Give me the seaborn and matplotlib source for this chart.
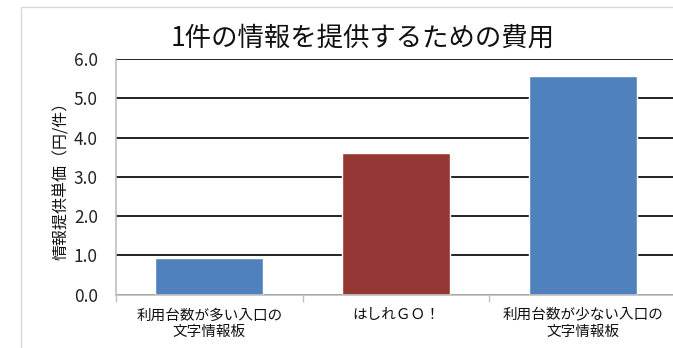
import matplotlib
matplotlib.use("Agg")
import matplotlib.pyplot as plt
from matplotlib.patches import Rectangle
import seaborn as sns
import pandas as pd

categories = ["利用台数が多い入口の\n文字情報板", "はしれＧＯ！", "利用台数が少ない入口の\n文字情報板"]
unit_cost = [0.93, 3.60, 5.56]
bar_colors = ["#4F81BD", "#953735", "#4F81BD"]
y_ticks = [0.0, 1.0, 2.0, 3.0, 4.0, 5.0, 6.0]

title = "1件の情報を提供するための費用"
y_label = "情報提供単価（円/件）"

sns.set_theme(style="white")
plt.rcParams["font.family"] = ["Noto Sans CJK JP", "DejaVu Sans"]

df = pd.DataFrame({"item": categories, "cost": unit_cost})

fig = plt.figure(figsize=(6.73, 3.48), dpi=100)
fig.patch.set_facecolor("white")

# outer chart-area border
fig.add_artist(Rectangle((20.5 / 673, -0.05), 1.2, 1 - 7.5 / 348 + 0.05,
                         transform=fig.transFigure, fill=False,
                         edgecolor="#D9D9D9", linewidth=1.0))

ax = fig.add_axes([116 / 673, 53.4 / 348, 560 / 673, 235.6 / 348])
sns.barplot(data=df, x="item", y="cost", hue="item", palette=bar_colors,
            width=0.58, legend=False, saturation=1, ax=ax, zorder=3)

ax.set_xlim(-0.5, 2.5)
ax.set_ylim(0, 6.0)
ax.set_yticks(y_ticks)
ax.set_yticklabels([f"{v:.1f}" for v in y_ticks], fontsize=12.5, color="#222222")
ax.yaxis.grid(True, color="#111111", linewidth=1.3, zorder=0)
ax.set_axisbelow(True)

ax.set_xlabel("")
ax.set_ylabel(y_label, fontsize=11.5, color="#111111", labelpad=3)
ax.tick_params(axis="x", length=0, pad=10, labelsize=10.5, colors="#111111")
ax.tick_params(axis="y", length=5, width=1, color="#BFBFBF", direction="out", pad=8)
ax.set_xticks([-0.5, 0.5, 1.5, 2.5], minor=True)
ax.tick_params(axis="x", which="minor", length=5, width=1, color="#BFBFBF",
               direction="out", bottom=True)

for side in ("top", "right"):
    ax.spines[side].set_visible(False)
for side in ("left", "bottom"):
    ax.spines[side].set_color("#BFBFBF")
    ax.spines[side].set_linewidth(1.2)
    ax.spines[side].set_zorder(4)

fig.text(363 / 673, 1 - 38 / 348, title, ha="center", va="center",
         fontsize=19, color="#111111")

fig.savefig("out.png", dpi=100, facecolor="white")
